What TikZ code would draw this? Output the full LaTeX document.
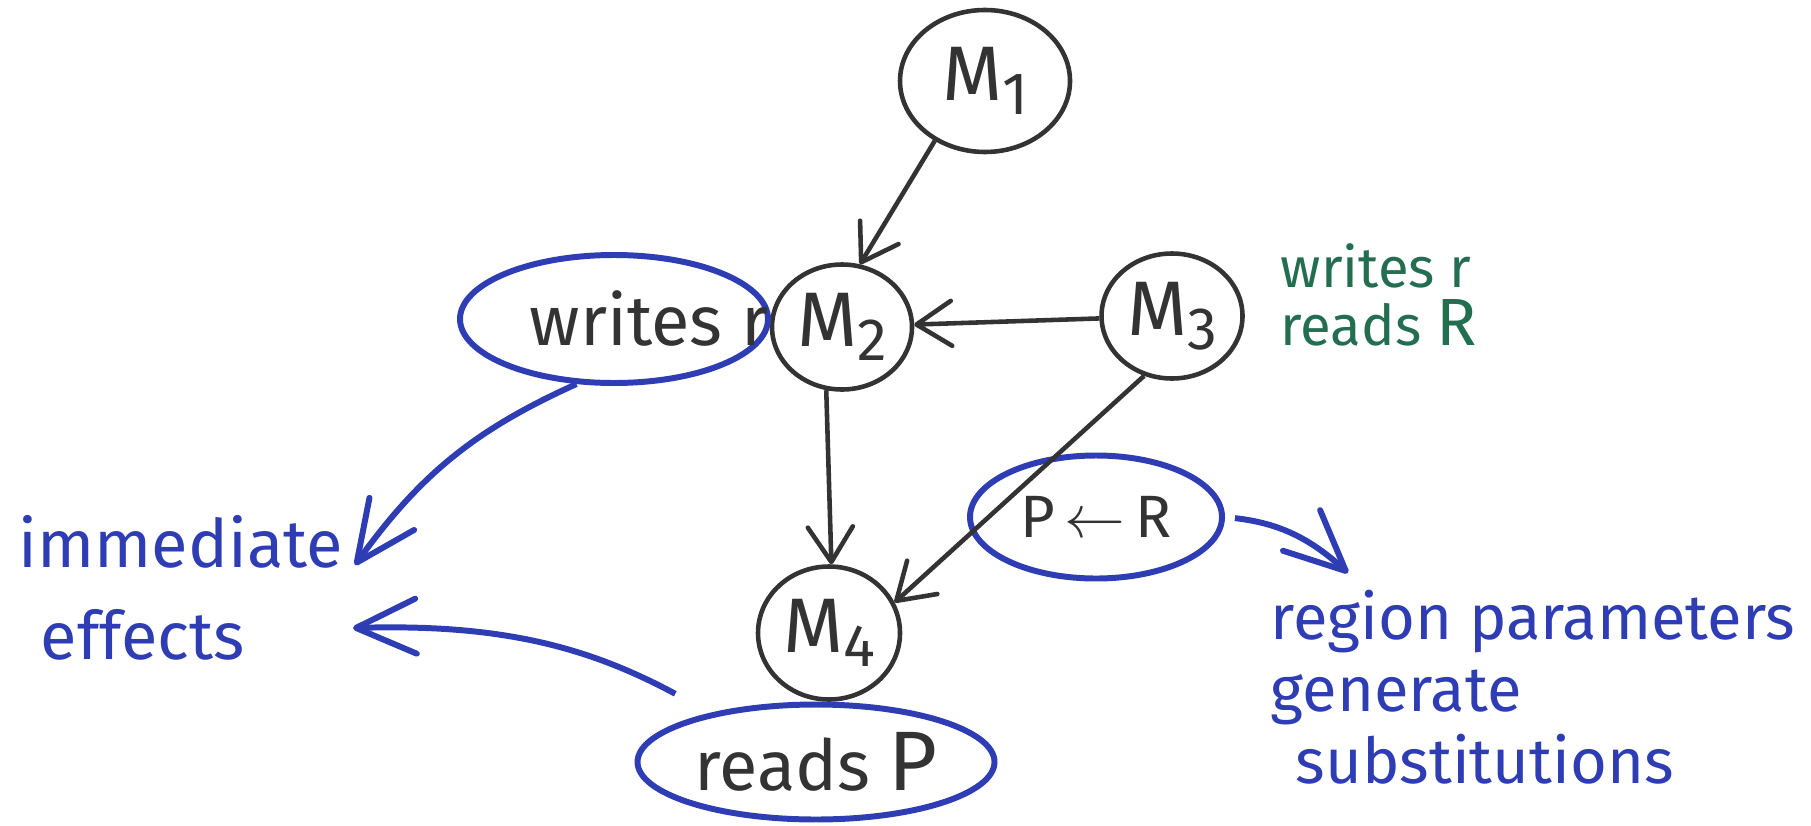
\documentclass[tikz,border=0pt]{standalone}
\usepackage{fontspec}
\setmainfont{Fira Sans}
\usetikzlibrary{arrows.meta,shapes.geometric}
\definecolor{inkblack}{HTML}{333333}
\definecolor{inkblue}{HTML}{2F3DB4}
\definecolor{inkgreen}{HTML}{236E50}
\newcommand{\modsub}[1]{\raisebox{-0.35ex}{\fontsize{17}{17}\selectfont #1}}

\begin{document}
\begin{tikzpicture}[
    module/.style={
      shape=ellipse,
      draw=inkblack,
      line width=1.3pt,
      inner sep=0pt,
      text=inkblack,
      font=\fontsize{22}{24}\selectfont,
    },
    bubble/.style={
      shape=ellipse,
      draw=inkblue,
      line width=1.7pt,
      inner sep=0pt,
      text=inkblack,
      font=\fontsize{20}{22}\selectfont,
    },
    remark/.style={
      align=left,
      inner sep=0pt,
      text=inkblue,
      font=\fontsize{18}{20.5}\selectfont,
    },
    link/.style={
      draw=inkblack,
      line width=1.3pt,
      -{Straight Barb[length=3.5mm,width=4.5mm,round]},
    },
    pointer/.style={
      draw=inkblue,
      line width=1.7pt,
      -{Straight Barb[length=6mm,width=5.5mm,round]},
    },
  ]
  \useasboundingbox (0, 0) rectangle (18.11, 8.25);

  \node[module, minimum width=1.70cm, minimum height=1.42cm] (m1) at (9.85, 7.44) {M\modsub{1}};
  \node[module, minimum width=1.40cm, minimum height=1.25cm] (m2) at (8.42, 4.98) {M\modsub{2}};
  \node[module, minimum width=1.41cm, minimum height=1.25cm] (m3) at (11.72, 5.09) {M\modsub{3}};
  \node[module, minimum width=1.42cm, minimum height=1.33cm] (m4) at (8.29, 1.92) {M\modsub{4}};

  \node[bubble, minimum width=3.08cm, minimum height=1.28cm,
    label={[text=inkblack, font=\fontsize{20}{22}\selectfont, xshift=3.5mm]center:writes r}] (writes) at (6.14, 5.06) {};
  \node[bubble, minimum width=2.52cm, minimum height=1.23cm, font=\fontsize{17}{19}\selectfont] (rule) at (10.96, 3.08) {P\,$\leftarrow$\,R};
  \node[bubble, minimum width=3.57cm, minimum height=1.15cm] (reads) at (8.16, 0.63) {reads {\fontsize{24}{24}\selectfont P}};

  \node[remark, text=inkgreen, font=\fontsize{16}{16.5}\selectfont, anchor=north west] (m3note) at (12.80, 5.82)
    {writes r\\ reads {\fontsize{19}{19}\selectfont R}};
  \node[remark, font=\fontsize{19}{26}\selectfont, anchor=north west] (effects) at (0.18, 3.10)
    {immediate\\ \hspace*{0.22cm}effects};
  \node[remark, anchor=north west] (regions) at (12.70, 2.36)
    {region parameters\\ generate\\ \hspace*{0.25cm}substitutions};

  \coordinate (tipA) at (3.55, 2.60);
  \coordinate (tipB) at (3.53, 1.97);
  \coordinate (tipC) at (13.48, 2.52);

  \draw[link] (m1.230) -- (m2.74);
  \draw[link] (m3) -- (m2);
  \draw[link] (m2.256) -- (m4.88);
  \draw[link] (m3.245) -- (m4.25);

  \draw[pointer] (writes.240) to[bend right=15] (tipA);
  \draw[pointer, shorten <=4mm] (reads.155) to[bend right=15] (tipB);
  \draw[pointer, shorten <=1mm] (rule.east) to[bend left=18] (tipC);
\end{tikzpicture}
\end{document}
